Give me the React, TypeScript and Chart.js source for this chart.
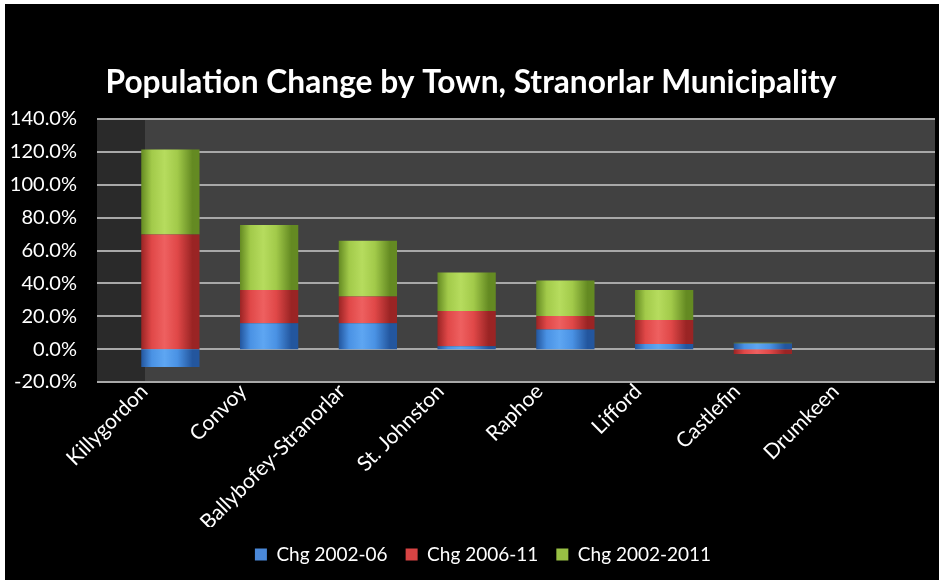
import React, { useEffect, useRef } from 'react';
import { Chart, registerables } from 'chart.js';

Chart.register(...registerables);

const towns = ['Killygordon', 'Convoy', 'Ballybofey-Stranorlar', 'St. Johnston', 'Raphoe', 'Lifford', 'Castlefin', 'Drumkeen'];
const chg0206 = [-10.8, 15.8, 15.7, 1.8, 12.0, 3.1, 3.5, 0];
const chg0611 = [69.7, 20.2, 16.3, 21.4, 8.2, 14.6, -3.0, 0];
const chg0211 = [51.8, 39.5, 34.0, 23.5, 21.5, 18.3, 0.4, 0];
const seriesNames = ['Chg 2002-06', 'Chg 2006-11', 'Chg 2002-2011'];
const yTickMin = -20;
const yTickMax = 140;
const yTickStep = 20;
const titleText = 'Population Change by Town, Stranorlar Municipality';

const palette = [
  { edge: '#23569e', mid: '#4a92e4', hi: '#5ea6f2', legend: '#4a88d8' },
  { edge: '#9a2424', mid: '#e04848', hi: '#ee6060', legend: '#d84444' },
  { edge: '#648a22', mid: '#a2ca4a', hi: '#b6dc5e', legend: '#98c044' },
];

const CAT_PCT = 0.59;
const FONT = 'Lato, "Open Sans", "DejaVu Sans", sans-serif';

function cylinder(idx: number) {
  return (ctx: any) => {
    const p = palette[idx];
    const chart = ctx.chart;
    if (!chart.chartArea || ctx.dataIndex === undefined) return p.mid;
    const xs = chart.scales.x;
    const x = xs.getPixelForValue(ctx.dataIndex);
    const w = (xs.width / towns.length) * CAT_PCT;
    const g = chart.ctx.createLinearGradient(x - w / 2, 0, x + w / 2, 0);
    g.addColorStop(0, p.edge);
    g.addColorStop(0.18, p.mid);
    g.addColorStop(0.4, p.hi);
    g.addColorStop(0.62, p.mid);
    g.addColorStop(0.88, p.edge);
    g.addColorStop(1, p.edge);
    return g;
  };
}

const plotBackground = {
  id: 'plotBackground',
  afterLayout(chart: any) {
    // shift title and legend blocks horizontally to match the reference placement
    if (chart.titleBlock) {
      chart.titleBlock.left += 13;
      chart.titleBlock.right += 13;
    }
    if (chart.legend) {
      chart.legend.left += 25;
      chart.legend.right += 25;
    }
  },
  beforeDraw(chart: any) {
    const { ctx, chartArea: a, scales } = chart;
    const ext = 24;
    const L = a.left - ext;
    const R = a.right + ext;
    ctx.save();
    ctx.fillStyle = '#000000';
    ctx.fillRect(0, 0, chart.width, chart.height);
    ctx.fillStyle = '#414141';
    ctx.fillRect(L, a.top, R - L, a.bottom - a.top);
    ctx.fillStyle = '#2a2a2a';
    ctx.fillRect(L, a.top, ext * 2, a.bottom - a.top);
    ctx.strokeStyle = '#a8a8a8';
    ctx.lineWidth = 2;
    scales.y.ticks.forEach((t: any) => {
      const y = Math.round(scales.y.getPixelForValue(t.value));
      ctx.beginPath();
      ctx.moveTo(L, y);
      ctx.lineTo(R, y);
      ctx.stroke();
    });
    ctx.restore();
  },
};

export default function App() {
  const ref = useRef<HTMLCanvasElement | null>(null);

  useEffect(() => {
    if (!ref.current) return;
    const series = [chg0206, chg0611, chg0211];
    const chart = new Chart(ref.current, {
      type: 'bar',
      data: {
        labels: towns,
        datasets: series.map((d, i) => ({
          label: seriesNames[i],
          data: d,
          backgroundColor: cylinder(i),
          borderWidth: 0,
          categoryPercentage: CAT_PCT,
          barPercentage: 1,
        })),
      },
      options: {
        animation: false,
        responsive: false,
        devicePixelRatio: 1,
        layout: { padding: { top: 50, right: 28, bottom: 6, left: 0 } },
        plugins: {
          title: {
            display: true,
            text: titleText,
            color: '#ffffff',
            font: { family: FONT, size: 31.7, weight: 'bold', lineHeight: 1.2 },
            padding: { top: 10, bottom: 17 },
          },
          legend: {
            position: 'bottom',
            labels: {
              color: '#ffffff',
              font: { family: FONT, size: 19 },
              boxWidth: 12,
              boxHeight: 12,
              padding: 18,
              generateLabels: (c: any) =>
                c.data.datasets.map((ds: any, i: number) => ({
                  text: ds.label,
                  fillStyle: palette[i].legend,
                  strokeStyle: palette[i].legend,
                  lineWidth: 0,
                  hidden: false,
                  datasetIndex: i,
                  fontColor: '#ffffff',
                })),
            },
          },
          tooltip: { enabled: false },
        },
        scales: {
          x: {
            stacked: true,
            grid: { display: false },
            border: { display: false },
            ticks: {
              color: '#ffffff',
              font: { family: FONT, size: 21 },
              minRotation: 45,
              maxRotation: 45,
              autoSkip: false,
              labelOffset: -26,
              padding: -11,
            },
            afterFit: (s: any) => {
              s.height = 145;
            },
          },
          y: {
            stacked: true,
            min: yTickMin,
            max: yTickMax,
            grid: { display: false },
            border: { display: false },
            ticks: {
              stepSize: yTickStep,
              color: '#ffffff',
              font: { family: FONT, size: 20 },
              padding: 36,
              callback: (v: any) => Number(v).toFixed(1) + '%',
            },
            afterFit: (s: any) => {
              s.width = 116;
            },
          },
        },
      },
      plugins: [plotBackground],
    });
    return () => chart.destroy();
  }, []);

  return (
    <div style={{ position: 'absolute', left: 5, top: 4, width: 934, height: 576, background: '#000' }}>
      <canvas ref={ref} width={934} height={576} style={{ display: 'block', width: 934, height: 576 }} />
    </div>
  );
}
